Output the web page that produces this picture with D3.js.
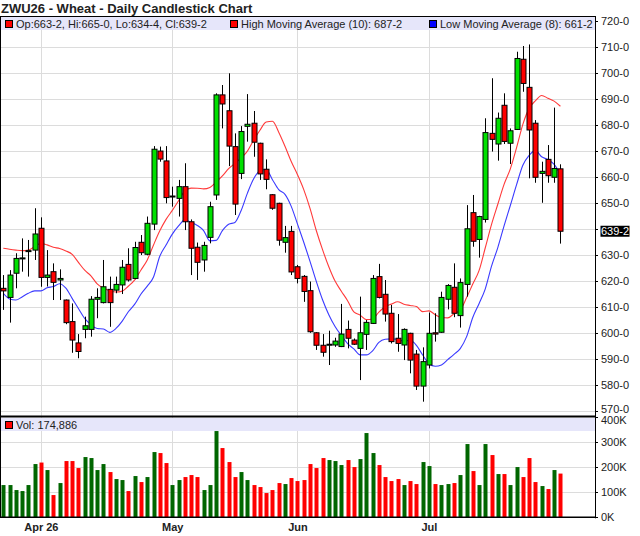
<!DOCTYPE html>
<html><head><meta charset="utf-8">
<script src="https://cdn.jsdelivr.net/npm/d3@7"></script>
<style>body{margin:0;background:#fff;} svg{display:block;font-family:Arial,"Liberation Sans",sans-serif;}</style>
</head><body><svg id="c" width="640" height="536"></svg>
<script>
// ---- data ----
const opens  = [617.3,613.8,623.1,628.8,631.6,632.0,640.4,621.5,623.7,620.5,
                612.8,604.5,596.3,601.5,601.5,613.1,611.8,616.9,616.6,618.6,
                626.5,621.1,635.0,630.4,642.0,670.1,666.3,652.5,651.9,656.4,
                642.9,633.1,628.2,636.9,653.2,691.7,685.6,671.8,661.5,679.6,
                680.8,673.1,663.1,653.3,650.0,635.0,639.2,625.6,621.9,616.4,
                600.2,595.4,595.6,595.5,594.9,601.5,597.4,594.2,599.6,603.8,
                621.8,615.0,607.7,598.1,595.5,600.0,592.0,579.7,587.8,600.2,
                600.4,613.1,617.7,606.8,618.8,646.4,636.1,643.8,676.9,672.8,
                687.7,673.1,678.4,705.4,694.6,680.8,661.5,666.9,660.0,663.25];
const highs  = [622.4,624.3,630.8,636.5,635.9,648.1,644.6,632.0,626.9,624.6,
                613.0,611.5,599.7,606.4,614.3,617.3,628.2,621.8,621.8,628.2,
                632.7,635.2,637.8,644.9,672.0,671.8,672.0,656.4,659.0,665.4,
                643.8,634.9,635.2,650.6,692.3,695.5,700.0,676.9,679.7,692.0,
                685.5,673.3,666.9,653.5,650.2,641.3,641.3,626.3,622.4,619.9,
                600.4,599.7,601.0,598.3,611.3,604.9,598.0,614.1,605.1,622.4,
                626.7,620.5,610.9,607.4,601.9,600.2,593.6,594.6,608.0,607.7,
                616.0,618.9,626.9,621.1,649.3,653.2,645.2,682.7,698.1,684.9,
                692.3,678.8,708.3,710.5,711.1,682.0,666.0,672.4,686.8,665.0];
const lows   = [609.0,604.1,617.3,623.7,621.8,628.2,617.9,618.0,612.8,612.8,
                603.5,592.5,590.4,598.1,598.7,605.8,611.5,602.5,615.4,615.1,
                619.9,620.8,630.1,630.0,639.7,666.0,650.0,648.7,644.9,639.7,
                622.4,620.5,623.7,634.6,651.3,678.8,664.3,645.5,659.3,673.7,
                667.9,659.0,655.4,647.5,633.7,631.0,622.4,619.2,612.1,600.2,
                593.6,591.0,587.8,594.8,594.7,594.2,595.5,582.0,593.6,603.6,
                613.4,604.5,596.1,592.9,589.7,584.6,578.2,573.7,586.5,596.8,
                600.2,609.2,606.2,602.2,614.1,633.3,629.1,642.6,669.9,666.4,
                672.8,665.1,678.2,692.9,659.6,657.9,650.2,657.9,657.9,634.5];
const closes = [616.3,622.4,628.8,629.0,631.8,638.2,621.5,622.4,619.6,621.1,
                604.1,597.4,593.0,602.9,613.1,613.8,617.9,611.8,618.8,625.4,
                620.5,633.0,631.0,642.3,670.8,667.0,652.2,652.8,656.4,642.9,
                632.7,627.3,633.8,648.7,691.7,688.2,672.0,649.7,677.6,680.4,
                673.5,661.3,659.2,648.1,635.8,636.8,623.6,621.1,616.1,600.6,
                595.4,592.7,595.8,597.0,599.7,598.1,595.8,600.2,604.2,621.1,
                613.8,607.4,596.8,596.1,601.5,589.7,579.7,589.1,600.0,599.7,
                613.8,618.4,607.7,619.5,640.2,635.4,644.9,677.2,674.6,682.7,
                673.8,677.9,705.7,696.1,678.2,660.0,662.3,660.6,663.4,639.25];
const volumes = [129000,129000,109000,105000,129000,213000,219000,189000,89000,137000,
                 225000,225000,197000,241000,237000,189000,213000,181000,153000,149000,
                 105000,165000,141000,161000,261000,257000,217000,129000,149000,161000,
                 169000,161000,109000,129000,345000,277000,221000,161000,181000,149000,
                 129000,121000,97000,109000,137000,133000,157000,145000,149000,213000,
                 197000,237000,229000,225000,209000,229000,201000,233000,337000,257000,
                 209000,161000,145000,153000,129000,145000,133000,221000,205000,133000,
                 129000,133000,137000,169000,293000,185000,129000,293000,249000,173000,
                 173000,129000,201000,161000,237000,141000,125000,113000,189000,174886];
// moving-average values at the left edge (their earlier inputs are off the chart)
const highMAHead = [632.7,632.3,632.0,631.8,632.0,633.3,634.6,634.0,633.1];
const lowMAHead  = [615.4,613.2,612.8,614.0,615.4,616.3,616.3];
const priceTicks = [720,710,700,690,680,670,660,650,640,630,620,610,600,590,580,570];
const volTicks   = [0,100000,200000,300000,400000];
const volTickLabels = ["0K","100K","200K","300K","400K"];
const monthLabels = ["Apr 26","May","Jun","Jul"];
const monthIdx    = [6,27,47,68];
const titleText = "ZWU26 - Wheat - Daily Candlestick Chart";
const highMALen = 10, lowMALen = 8;

// ---- layout ----
const L = 1, R = 595, T = 16, MB = 416.5, VB = 517.3;
const svg = d3.select("#c");
const x  = d3.scaleLinear().domain([0, 89]).range([3.3, 560.4]);
const y  = d3.scaleLinear().domain([570, 720]).range([411.3, 21.3]);
const yv = d3.scaleLinear().domain([0, 400000]).range([VB, 417.3]);
const n = closes.length;
const idx = d3.range(n);
const fmtP = v => { const q = Math.round(v*4)/4; const f = Math.floor(q); return f + "-" + Math.round((q-f)*8); };
const GREEN = "#00e000", RED = "#ff0000", GRID = "#dcdcdc", BAND = "#e6e6fa", TXT = "#222";

const highMA = idx.map(i => i < highMALen-1 ? highMAHead[i] : d3.mean(highs.slice(i-highMALen+1, i+1)));
const lowMA  = idx.map(i => i < lowMALen-1 ? lowMAHead[i] : d3.mean(lows.slice(i-lowMALen+1, i+1)));

svg.append("rect").attr("width",640).attr("height",536).attr("fill","#fff");

// grid main
const g = svg.append("g");
g.selectAll(".hg").data(priceTicks).join("line")
  .attr("x1",L).attr("x2",R).attr("y1",d=>Math.round(y(d))+0.5).attr("y2",d=>Math.round(y(d))+0.5)
  .attr("stroke",GRID).attr("stroke-width",1);
g.selectAll(".vg").data(monthIdx).join("line")
  .attr("x1",d=>Math.round(x(d))+0.5).attr("x2",d=>Math.round(x(d))+0.5).attr("y1",T).attr("y2",VB)
  .attr("stroke",GRID).attr("stroke-width",1);
// volume grid
g.selectAll(".vhg").data(volTicks.slice(1,4)).join("line")
  .attr("x1",L).attr("x2",R).attr("y1",d=>Math.round(yv(d))+0.5).attr("y2",d=>Math.round(yv(d))+0.5)
  .attr("stroke",GRID).attr("stroke-width",1);

// legend bands
svg.append("rect").attr("x",L).attr("y",17).attr("width",R-L).attr("height",13).attr("fill",BAND);
svg.append("rect").attr("x",L).attr("y",418).attr("width",R-L).attr("height",13).attr("fill",BAND);

// MA lines
const line = d3.line().x((d,i)=>x(i)).y(d=>y(d)).curve(d3.curveMonotoneX);
svg.append("path").attr("d",line(highMA)).attr("fill","none").attr("stroke","#ff3a3a").attr("stroke-width",1.1);
svg.append("path").attr("d",line(lowMA)).attr("fill","none").attr("stroke","#3a3aff").attr("stroke-width",1.1);

// candles
const cg = svg.append("g");
idx.forEach(i => {
  const cx = Math.round(x(i)) + 0.5;
  cg.append("line").attr("x1",cx).attr("x2",cx).attr("y1",y(highs[i])).attr("y2",y(lows[i]))
    .attr("stroke","#000").attr("stroke-width",1);
  const top = y(Math.max(opens[i],closes[i])), bot = y(Math.min(opens[i],closes[i]));
  const h = Math.max(1, bot-top);
  cg.append("rect").attr("x",cx-2.5).attr("y",top).attr("width",5).attr("height",h)
    .attr("fill", closes[i] >= opens[i] ? GREEN : RED).attr("stroke","#000").attr("stroke-width",1);
});

// volume bars
svg.append("g").selectAll("rect").data(idx).join("rect")
  .attr("x",i=>Math.round(x(i))-1.5).attr("width",4)
  .attr("y",i=>yv(volumes[i])).attr("height",i=>VB-yv(volumes[i]))
  .attr("fill",i=> (i===0 || closes[i] >= closes[i-1]) ? "#006600" : RED);

// borders
svg.append("line").attr("x1",0).attr("x2",R).attr("y1",T+0.5).attr("y2",T+0.5).attr("stroke","#000");
svg.append("line").attr("x1",0.5).attr("x2",0.5).attr("y1",T).attr("y2",VB).attr("stroke","#000");
svg.append("line").attr("x1",R+0.5).attr("x2",R+0.5).attr("y1",T).attr("y2",VB+1).attr("stroke","#000");
svg.append("line").attr("x1",0).attr("x2",R).attr("y1",MB).attr("y2",MB).attr("stroke","#000").attr("stroke-width",2);
svg.append("line").attr("x1",0).attr("x2",R+1).attr("y1",VB).attr("y2",VB).attr("stroke","#000").attr("stroke-width",1.5);

// right axis ticks/labels
const lastY = y(closes[n-1]);
const ax = svg.append("g").attr("font-size","11px").attr("fill",TXT);
priceTicks.forEach((t,k) => {
  const yy = Math.round(y(t))+0.5;
  ax.append("line").attr("x1",R).attr("x2",R+3).attr("y1",yy).attr("y2",yy).attr("stroke","#000");
  if (Math.abs(yy - lastY) > 10) // label hidden behind the last-price marker
    ax.append("text").attr("x",601).attr("y",yy - (k===priceTicks.length-1 ? 2.5 : 0)).attr("dy","0.35em").text(fmtP(t));
});
volTicks.forEach((t,k) => {
  const yy = Math.round(yv(t))+0.5;
  ax.append("line").attr("x1",R).attr("x2",R+3).attr("y1",yy).attr("y2",yy).attr("stroke","#000");
  ax.append("text").attr("x",601).attr("y",yy + (k===4 ? 3 : 0)).attr("dy","0.35em").text(volTickLabels[k]);
});
// last price marker
svg.append("rect").attr("x",600.5).attr("y",lastY-5.5).attr("width",29).attr("height",11).attr("fill","#000");
svg.append("text").attr("x",601).attr("y",lastY).attr("dy","0.35em").attr("font-size","11px")
  .attr("fill","#fff").text(fmtP(closes[n-1]));

// x labels
svg.append("g").selectAll("text").data(monthIdx).join("text")
  .attr("x",d=>x(d)+0.5).attr("y",531).attr("text-anchor","middle")
  .attr("font-size","11px").attr("font-weight","bold").attr("fill",TXT)
  .text((d,k)=>monthLabels[k]);

// title
svg.append("text").attr("x",1).attr("y",12.5).attr("font-size","13px").attr("font-weight","bold")
  .attr("fill",TXT).text(titleText);

// legends
function legendItem(xp, yp, color, label) {
  svg.append("rect").attr("x",xp+0.5).attr("y",yp-7.5).attr("width",7).attr("height",7)
    .attr("fill",color).attr("stroke","#000").attr("stroke-width",1);
  svg.append("text").attr("x",xp+11).attr("y",yp).attr("font-size","11px").attr("fill",TXT).text(label);
}
const last = n-1;
legendItem(5, 28, RED, `Op:${fmtP(opens[last])}, Hi:${fmtP(highs[last])}, Lo:${fmtP(lows[last])}, Cl:${fmtP(closes[last])}`);
legendItem(230, 28, RED, `High Moving Average (${highMALen}): ${fmtP(highMA[last])}`);
legendItem(429, 28, "#0000ff", `Low Moving Average (${lowMALen}): ${fmtP(lowMA[last])}`);
legendItem(5, 429, RED, `Vol: ${d3.format(",")(volumes[last])}`);
</script></body></html>
